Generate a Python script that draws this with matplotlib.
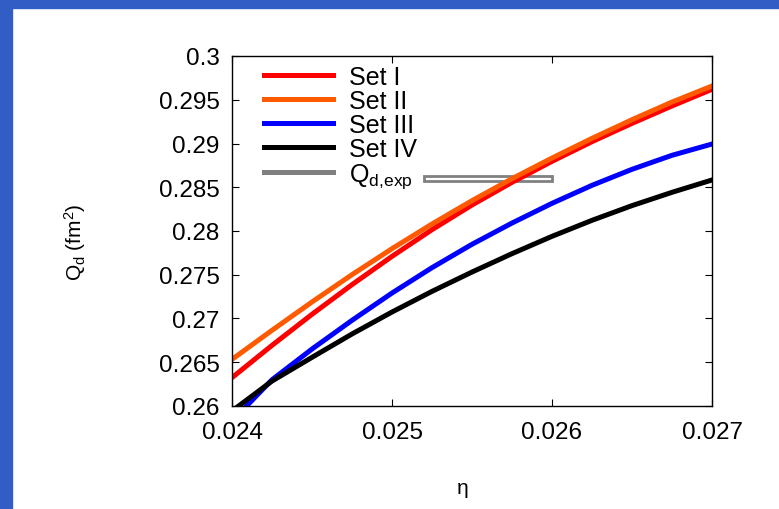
import matplotlib
matplotlib.use("Agg")
import matplotlib.pyplot as plt
from matplotlib.patches import Rectangle
from matplotlib.lines import Line2D
from matplotlib.ticker import FormatStrFormatter

# =========================================================
# DATA
# =========================================================

eta = [0.02400, 0.02425, 0.02450, 0.02475, 0.02500, 0.02525, 0.02550,
       0.02575, 0.02600, 0.02625, 0.02650, 0.02675, 0.02700]

set_1 = [0.26324, 0.26693, 0.27048, 0.27387, 0.27710, 0.28015, 0.28297,
         0.28556, 0.28796, 0.29021, 0.29230, 0.29429, 0.29619]
set_2 = [0.26533, 0.26865, 0.27189, 0.27501, 0.27798, 0.28080, 0.28347,
         0.28598, 0.28834, 0.29059, 0.29272, 0.29474, 0.29657]
set_3 = [0.25828, 0.26300, 0.26651, 0.26979, 0.27291, 0.27581, 0.27848,
         0.28091, 0.28316, 0.28522, 0.28705, 0.28865, 0.28994]
set_4 = [0.25943, 0.26285, 0.26556, 0.26823, 0.27074, 0.27310, 0.27531,
         0.27741, 0.27939, 0.28122, 0.28290, 0.28442, 0.28583]

series_labels = ["Set I", "Set II", "Set III", "Set IV"]
series_colors = ["#ff0000", "#ff5a00", "#0000ff", "#000000"]

# experimental quadrupole moment band
q_exp = 0.2860
q_exp_err = 0.00032
q_exp_eta = [0.0252, 0.0260]

x_ticks = [0.024, 0.025, 0.026, 0.027]
y_ticks = [0.26, 0.265, 0.27, 0.275, 0.28, 0.285, 0.29, 0.295, 0.3]

# =========================================================
# STYLE
# =========================================================

plt.rcParams["font.family"] = ["Liberation Sans", "DejaVu Sans"]
plt.rcParams["mathtext.fontset"] = "custom"
plt.rcParams["mathtext.rm"] = "Liberation Sans"
plt.rcParams["mathtext.it"] = "Liberation Sans"

fig = plt.figure(figsize=(7.79, 5.10), dpi=100)

# blue frame strips on top and left
fig.patches.append(Rectangle((0, 1 - 9 / 510), 1, 9 / 510, transform=fig.transFigure,
                             color="#325dc5", zorder=0))
fig.patches.append(Rectangle((0, 0), 12 / 779, 1, transform=fig.transFigure,
                             color="#325dc5", zorder=0))

ax = fig.add_axes([232 / 779, 103 / 510, 480 / 779, 350 / 510])

# =========================================================
# CURVES
# =========================================================

box = Rectangle((q_exp_eta[0], q_exp - q_exp_err), q_exp_eta[1] - q_exp_eta[0],
                2 * q_exp_err, fill=False, edgecolor="#808080", lw=2.0, zorder=1.5)
ax.add_patch(box)

for ys, lab, col in zip([set_1, set_2, set_3, set_4], series_labels, series_colors):
    ax.plot(eta, ys, color=col, lw=3.6, label=lab, zorder=2)

# =========================================================
# AXES
# =========================================================

ax.set_xlim(0.024, 0.027)
ax.set_ylim(0.26, 0.3)
ax.set_xticks(x_ticks)
ax.set_yticks(y_ticks)
ax.xaxis.set_major_formatter(FormatStrFormatter("%g"))
ax.yaxis.set_major_formatter(FormatStrFormatter("%g"))
ax.tick_params(direction="in", length=5, width=0.8, labelsize=17.5,
               top=True, right=True, pad=9)
ax.tick_params(axis="x", pad=11)
for sp in ax.spines.values():
    sp.set_linewidth(1.0)

ax.set_xlabel("η", fontsize=15)
ax.xaxis.set_label_coords(0.481, -0.205)
ax.set_ylabel(r"Q$_{\rm d}$ (fm$^2$)", fontsize=15)
ax.yaxis.set_label_coords(-0.30, 0.47)

# =========================================================
# LEGEND
# =========================================================

handles, labels = ax.get_legend_handles_labels()
handles.append(Line2D([], [], color="#808080", lw=3.6))
labels.append(r"Q$_\mathregular{d{,}exp}$")
ax.legend(handles, labels, loc="upper left", bbox_to_anchor=(0.035, 1.017),
          frameon=False, fontsize=18, handlelength=2.76, handletextpad=0.65,
          labelspacing=0.0, borderaxespad=0.2)

fig.savefig("out.png", dpi=100)
